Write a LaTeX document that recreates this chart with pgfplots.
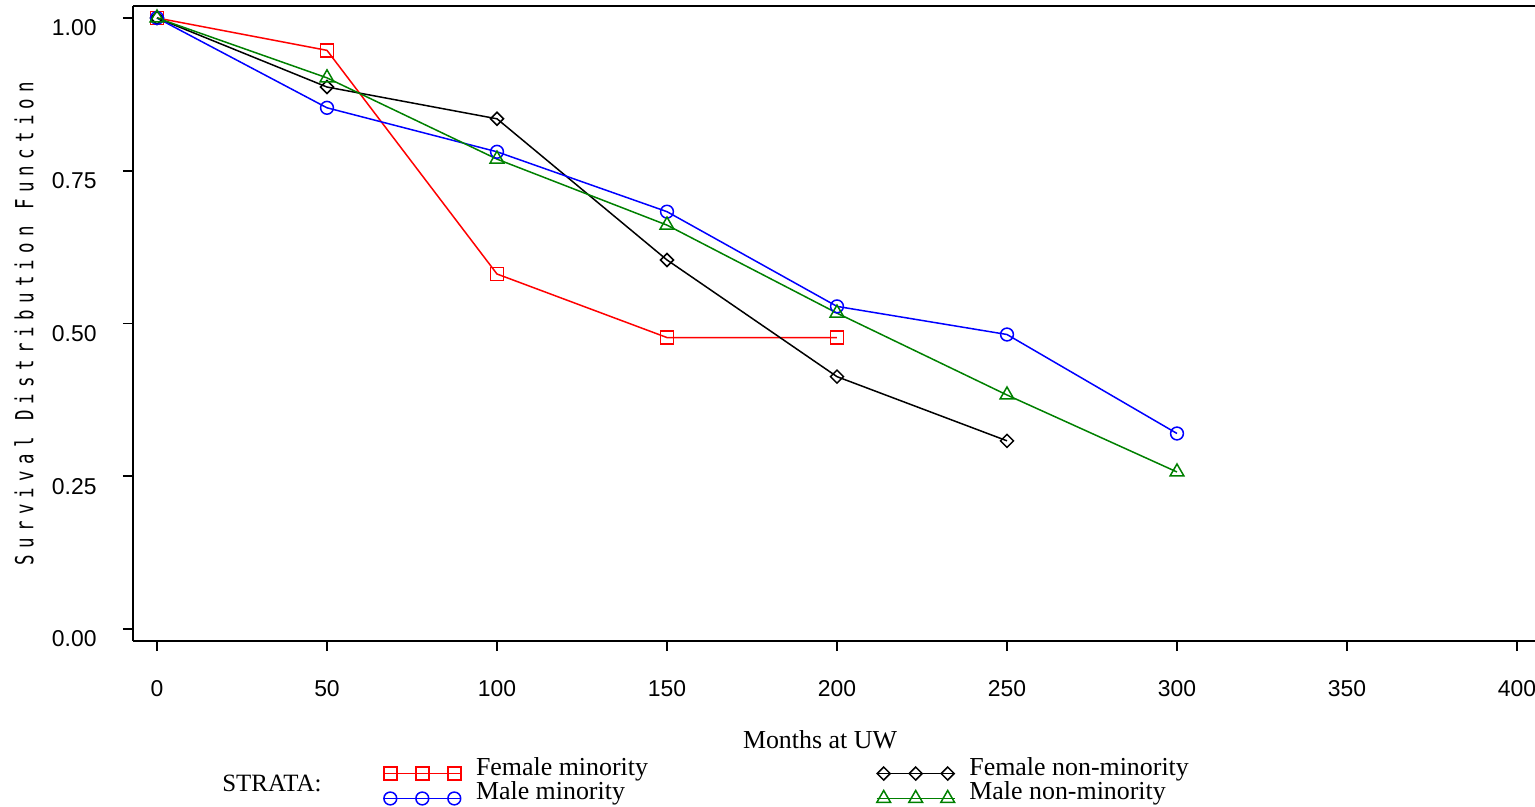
\documentclass[border=0pt]{standalone}
\usepackage{fontspec}
\setmainfont{Liberation Serif}
\setsansfont{Liberation Sans}
\newfontfamily\ylabfont[FakeStretch=0.7,LetterSpace=25]{DejaVu Sans Mono}
\usepackage{pgfplots}
\pgfplotsset{compat=1.18}
\definecolor{sasgreen}{RGB}{0,128,0}

\begin{document}
\begin{tikzpicture}
\begin{axis}[
    name=ax,
    scale only axis,
    width=701bp, height=317.5bp,
    xmin=-7.06, xmax=405.3,
    ymin=-0.0196, ymax=1.0196,
    axis x line=bottom, axis y line=left,
    axis line style={-, line width=1bp},
    tick align=outside,
    major tick length=5bp,
    tick style={line width=0.8bp, black},
    xtick={0,50,...,400},
    ytick={0,0.25,0.5,0.75,1},
    yticklabels={0.00,0.25,0.50,0.75,1.00},
    /pgf/number format/assume math mode=true,
    ticklabel style={font=\sffamily\fontsize{11.5}{13}\selectfont, inner sep=0pt},
    xticklabel style={anchor=north, yshift=-14.4bp},
    yticklabel style={anchor=east, xshift=-13bp, yshift=-5bp},
    xlabel={Months at UW},
    ylabel={Survival Distribution Function},
    every axis x label/.style={at={(axis description cs:0.49,0)}, anchor=base,
        yshift=-53.5bp, font=\fontsize{13}{13}\selectfont},
    every axis y label/.style={at={(axis description cs:-0.07775,0.5)}, rotate=90,
        anchor=center, font=\ylabfont\fontsize{12.5}{13}\selectfont},
    legend columns=2,
    legend cell align=left,
    legend style={at={(axis description cs:0.1780,-0.1765)}, anchor=north west,
        draw=none, fill=none, inner sep=0pt, outer sep=0pt, row sep=-2bp,
        font=\fontsize{13}{13}\selectfont,
        /tikz/every odd column/.append style={column sep=5bp},
        /tikz/column 2/.style={column sep=112bp}},
    legend image code/.code={
        \path[draw=none, fill=none] (-3.5bp,-6bp) rectangle (35.5bp,6bp);
        \draw[#1, mark indices={2,3,4}] plot coordinates {
            (-3.5bp,-3bp) (0bp,-3bp) (16bp,-3bp) (32bp,-3bp) (35.5bp,-3bp)};
    },
    every axis plot/.append style={line width=0.75bp},
]
\addplot[red, mark=square, mark size=3.25bp] coordinates {
    (0,1) (50,0.947) (100,0.581) (150,0.477) (200,0.477)};
\addplot[black, mark=square, mark size=2.3bp, mark options={rotate=45}] coordinates {
    (0,1) (50,0.887) (100,0.835) (150,0.604) (200,0.413) (250,0.308)};
\addplot[blue, mark=o, mark size=3.2bp] coordinates {
    (0,1) (50,0.853) (100,0.781) (150,0.683) (200,0.528) (250,0.482) (300,0.320)};
\addplot[sasgreen, mark=triangle, mark size=4bp] coordinates {
    (0,1) (50,0.902) (100,0.769) (150,0.661) (200,0.517) (250,0.383) (300,0.257)};
\legend{Female minority, Female non-minority, Male minority, Male non-minority}
\end{axis}
\draw[line width=1bp] (ax.north west) -- (ax.north east);
\node[anchor=base west, font=\fontsize{12.5}{13}\selectfont, inner sep=0pt]
    at ([xshift=44.5bp, yshift=-75bp]ax.south west) {STRATA:};
\pgfresetboundingbox
\path ([xshift=-66.5bp, yshift=3bp]ax.north west) rectangle ([yshift=-83bp]ax.south east);
\end{tikzpicture}
\end{document}
